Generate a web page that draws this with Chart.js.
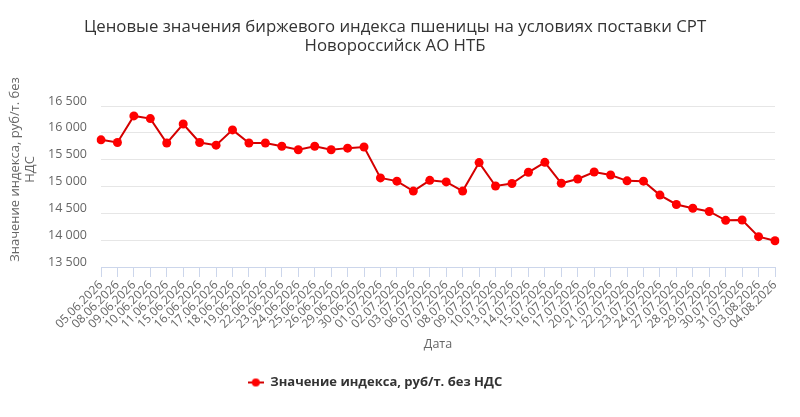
<!DOCTYPE html>
<html><head><meta charset="utf-8">
<script src="https://cdn.jsdelivr.net/npm/chart.js@4/dist/chart.umd.min.js"></script>
<style>html,body{margin:0;padding:0;background:#fff}#wrap{width:800px;height:417px}</style>
</head><body><div id="wrap"><canvas id="c" width="800" height="417"></canvas></div>
<script>
const chartTitle = ['Ценовые значения биржевого индекса пшеницы на условиях поставки СРТ', 'Новороссийск АО НТБ'];
const yAxisTitle = ['Значение индекса, руб/т. без', 'НДС'];
const xAxisTitle = 'Дата';
const seriesName = 'Значение индекса, руб/т. без НДС';
const categories = ['05.06.2026','08.06.2026','09.06.2026','10.06.2026','11.06.2026','15.06.2026','16.06.2026','17.06.2026','18.06.2026','19.06.2026','22.06.2026','23.06.2026','24.06.2026','25.06.2026','26.06.2026','29.06.2026','30.06.2026','01.07.2026','02.07.2026','03.07.2026','06.07.2026','07.07.2026','08.07.2026','09.07.2026','10.07.2026','13.07.2026','14.07.2026','15.07.2026','16.07.2026','17.07.2026','20.07.2026','21.07.2026','22.07.2026','23.07.2026','24.07.2026','27.07.2026','28.07.2026','29.07.2026','30.07.2026','31.07.2026','03.08.2026','04.08.2026'];
const indexValues = [15870,15820,16315,16265,15810,16165,15820,15770,16055,15810,15810,15750,15685,15750,15685,15715,15735,15160,15100,14915,15115,15085,14915,15445,15010,15055,15265,15450,15060,15140,15270,15215,15105,15100,14840,14665,14595,14535,14370,14375,14065,13990];
const yMin = 13500, yMax = 16500, yStep = 500;

const FONT = '"Open Sans", sans-serif';
const LINE_COLOR = '#d40000';
const POINT_COLOR = '#ff0000';

const marker = document.createElement('canvas');
marker.width = 16; marker.height = 10;
(function(){
  const m = marker.getContext('2d');
  m.strokeStyle = LINE_COLOR; m.lineWidth = 2;
  m.beginPath(); m.moveTo(0,5); m.lineTo(16,5); m.stroke();
  m.fillStyle = POINT_COLOR; m.beginPath(); m.arc(8,5,4,0,Math.PI*2); m.fill();
})();

const legendShift = {
  id: 'legendShift',
  afterLayout(chart) { if (chart.legend) chart.legend.right = 750; }
};

new Chart(document.getElementById('c'), {
  type: 'line',
  data: {
    labels: categories,
    datasets: [{
      label: seriesName,
      data: indexValues,
      borderColor: LINE_COLOR,
      backgroundColor: POINT_COLOR,
      borderWidth: 2,
      pointRadius: 4.5,
      pointBackgroundColor: POINT_COLOR,
      pointBorderColor: POINT_COLOR,
      pointBorderWidth: 0,
      tension: 0,
      fill: false
    }]
  },
  options: {
    responsive: false,
    animation: false,
    devicePixelRatio: 1,
    layout: { padding: { left: 0, right: 10, top: 0, bottom: 18 } },
    plugins: {
      title: {
        display: true,
        text: chartTitle,
        color: '#333333',
        font: { family: FONT, size: 16.8, weight: 'normal', lineHeight: '19px' },
        padding: { top: 17.5, bottom: 50.5 }
      },
      legend: {
        display: true,
        position: 'bottom',
        labels: {
          usePointStyle: true,
          pointStyle: marker,
          pointStyleWidth: 16,
          color: '#333333',
          font: { family: FONT, size: 13, weight: 'bold' },
          padding: 10
        }
      },
      tooltip: { enabled: false }
    },
    scales: {
      x: {
        type: 'category',
        offset: false,
        grid: { display: true, drawOnChartArea: false, drawTicks: true, tickLength: 10, color: '#ccd6eb' },
        border: { display: true, color: '#ccd6eb', width: 1 },
        ticks: {
          autoSkip: false, maxRotation: 45, minRotation: 45,
          color: '#666666', font: { family: FONT, size: 12 }, padding: 1
        },
        title: {
          display: true, text: xAxisTitle, color: '#666666',
          font: { family: FONT, size: 12.5 }, padding: { top: 0, bottom: 13.8 }
        },
        afterFit(scale) { scale.height = 99; scale.paddingRight = 25; }
      },
      y: {
        min: yMin, max: yMax,
        grid: { color: '#e6e6e6', drawTicks: false, lineWidth: 1 },
        border: { display: false },
        ticks: {
          stepSize: yStep, color: '#666666', padding: 14, labelOffset: -5,
          font: { family: FONT, size: 12.5 },
          callback: v => String(v).replace(/\B(?=(\d{3})+(?!\d))/g, ' ')
        },
        title: {
          display: true, text: yAxisTitle, color: '#666666',
          font: { family: FONT, size: 13, lineHeight: '15px' }, padding: { top: 7.5, bottom: 0 }
        },
        afterFit(scale) {
          scale.width = 101;
          if (!scale._titleShifted) {
            scale._titleShifted = true;
            const orig = scale.drawTitle;
            scale.drawTitle = function() {
              const t = this.top;
              this.top = t - 34;
              try { orig.call(this); } finally { this.top = t; }
            };
          }
        }
      }
    }
  },
  plugins: [legendShift]
});
</script></body></html>
